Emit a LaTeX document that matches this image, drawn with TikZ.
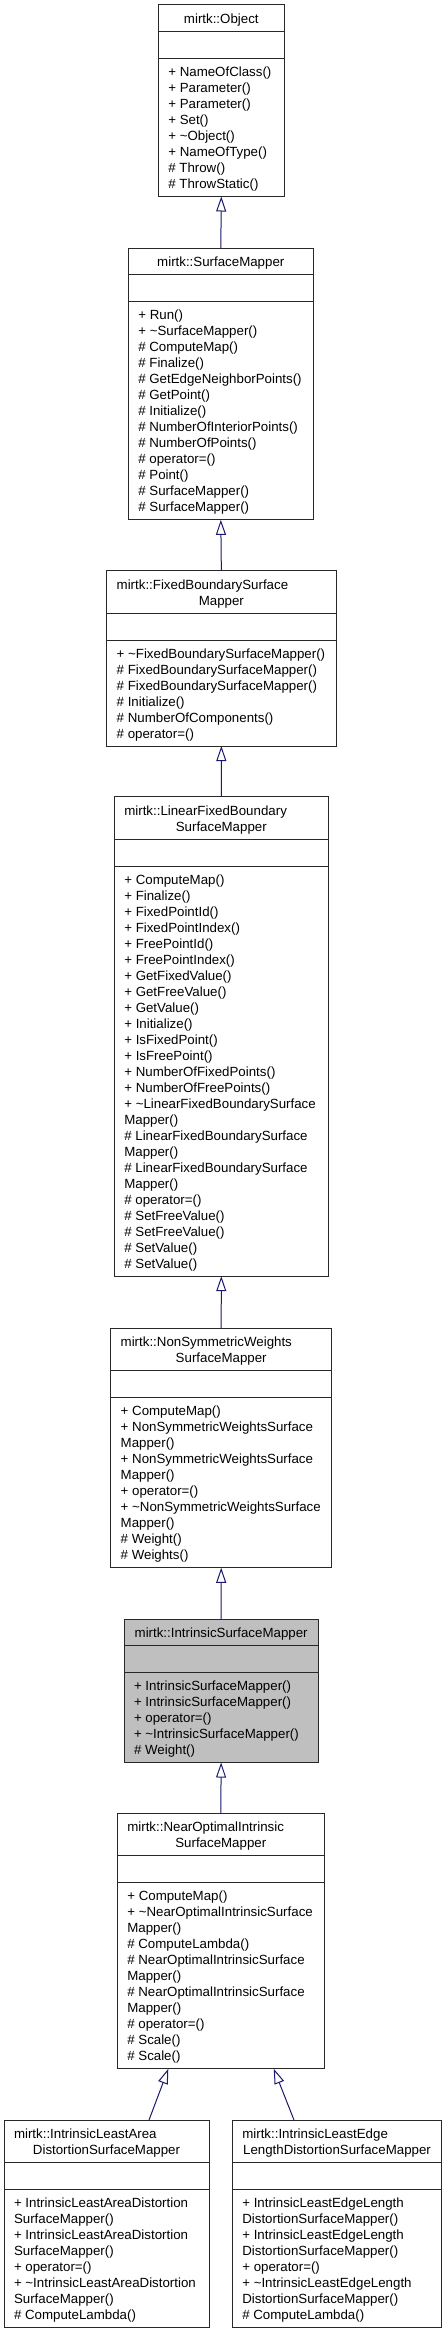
\documentclass[tikz,border=0pt]{standalone}
\usepackage{fontspec}
\setmainfont{Liberation Sans}
\usetikzlibrary{arrows.meta}
\definecolor{edgeblue}{RGB}{25,25,112}
\definecolor{boxline}{RGB}{40,40,40}
\definecolor{grayfill}{RGB}{191,191,191}
\tikzset{
  classbox/.style={draw=boxline, line width=1pt, rectangle, inner sep=0pt, outer sep=0pt},
  sepline/.style={draw=boxline, line width=1pt},
  txt/.style={inner sep=0pt, outer sep=0pt, font=\fontsize{13.3}{16}\selectfont},
  inh/.style={draw=edgeblue, line width=1pt, -{Triangle[open, length=15pt, width=10pt]}},
}
% #1 name, #2 left, #3 right, #4 top, #5 title line 1, #6 title line 2, #7 number of items, #8 items, #9 fill
\newcommand\umlclass[9]{%
  \ifx\relax#6\relax\def\ntl{1}\else\def\ntl{2}\fi
  \pgfmathsetmacro\ya{#4+16*\ntl+10.5}%
  \pgfmathsetmacro\yb{\ya+27}%
  \pgfmathsetmacro\yc{\yb+16*#7+10}%
  \pgfmathsetmacro\xm{(#2+#3)/2}%
  \pgfmathsetmacro\ym{(#4+\yc)/2}%
  \pgfmathsetmacro\bw{#3-#2}%
  \pgfmathsetmacro\bh{\yc-#4}%
  \node[classbox, fill=#9, minimum width=\bw pt, minimum height=\bh pt] (#1) at (\xm,\ym) {};
  \draw[sepline] (#2,\ya) -- (#3,\ya) (#2,\yb) -- (#3,\yb);
  \ifx\relax#6\relax
    \node[txt, anchor=base] (#1-t1) at (\xm,#4+18.5) {#5};
  \else
    \node[txt, anchor=base west] (#1-t1) at (#2+10,#4+18.5) {#5};
    \node[txt, anchor=base] (#1-t2) at (\xm,#4+34.5) {#6};
  \fi
  \foreach \t [count=\i from 0] in {#8} {
    \node[txt, anchor=base west] (#1-i\i) at (#2+10,\yb+18+16*\i) {\t};
  }
}
\begin{document}
\begin{tikzpicture}[x=1pt,y=-1pt]
\useasboundingbox (0,0) rectangle (447,2336);
\fill[white] (0,0) rectangle (447,2336);

\umlclass{obj}{158.3}{284.3}{5}{mirtk::Object}{}{8}{{+ NameOfClass()},{+ Parameter()},{+ Parameter()},{+ Set()},{+ \textasciitilde Object()},{+ NameOfType()},{\# Throw()},{\# ThrowStatic()}}{white}

\umlclass{sm}{128.3}{313.3}{248.3}{mirtk::SurfaceMapper}{}{13}{{+ Run()},{+ \textasciitilde SurfaceMapper()},{\# ComputeMap()},{\# Finalize()},{\# GetEdgeNeighborPoints()},{\# GetPoint()},{\# Initialize()},{\# NumberOfInteriorPoints()},{\# NumberOfPoints()},{\# operator=()},{\# Point()},{\# SurfaceMapper()},{\# SurfaceMapper()}}{white}

\umlclass{fbsm}{106.7}{336}{570.5}{mirtk::FixedBoundarySurface}{Mapper}{6}{{+ \textasciitilde FixedBoundarySurfaceMapper()},{\# FixedBoundarySurfaceMapper()},{\# FixedBoundarySurfaceMapper()},{\# Initialize()},{\# NumberOfComponents()},{\# operator=()}}{white}

\umlclass{lfbsm}{114.3}{328.3}{796.7}{mirtk::LinearFixedBoundary}{SurfaceMapper}{25}{{+ ComputeMap()},{+ Finalize()},{+ FixedPointId()},{+ FixedPointIndex()},{+ FreePointId()},{+ FreePointIndex()},{+ GetFixedValue()},{+ GetFreeValue()},{+ GetValue()},{+ Initialize()},{+ IsFixedPoint()},{+ IsFreePoint()},{+ NumberOfFixedPoints()},{+ NumberOfFreePoints()},{+ \textasciitilde LinearFixedBoundarySurface},{Mapper()},{\# LinearFixedBoundarySurface},{Mapper()},{\# LinearFixedBoundarySurface},{Mapper()},{\# operator=()},{\# SetFreeValue()},{\# SetFreeValue()},{\# SetValue()},{\# SetValue()}}{white}

\umlclass{nsw}{110.7}{331.7}{1328.3}{mirtk::NonSymmetricWeights}{SurfaceMapper}{10}{{+ ComputeMap()},{+ NonSymmetricWeightsSurface},{Mapper()},{+ NonSymmetricWeightsSurface},{Mapper()},{+ operator=()},{+ \textasciitilde NonSymmetricWeightsSurface},{Mapper()},{\# Weight()},{\# Weights()}}{white}

\umlclass{ism}{124}{318.3}{1619}{mirtk::IntrinsicSurfaceMapper}{}{5}{{+ IntrinsicSurfaceMapper()},{+ IntrinsicSurfaceMapper()},{+ operator=()},{+ \textasciitilde IntrinsicSurfaceMapper()},{\# Weight()}}{grayfill}

\umlclass{noism}{117.3}{324.3}{1813.3}{mirtk::NearOptimalIntrinsic}{SurfaceMapper}{11}{{+ ComputeMap()},{+ \textasciitilde NearOptimalIntrinsicSurface},{Mapper()},{\# ComputeLambda()},{\# NearOptimalIntrinsicSurface},{Mapper()},{\# NearOptimalIntrinsicSurface},{Mapper()},{\# operator=()},{\# Scale()},{\# Scale()}}{white}

\umlclass{ilad}{4}{209}{2120}{mirtk::IntrinsicLeastArea}{DistortionSurfaceMapper}{8}{{+ IntrinsicLeastAreaDistortion},{SurfaceMapper()},{+ IntrinsicLeastAreaDistortion},{SurfaceMapper()},{+ operator=()},{+ \textasciitilde IntrinsicLeastAreaDistortion},{SurfaceMapper()},{\# ComputeLambda()}}{white}

\umlclass{ilel}{232.3}{441.7}{2120}{mirtk::IntrinsicLeastEdge}{LengthDistortionSurfaceMapper}{8}{{+ IntrinsicLeastEdgeLength},{DistortionSurfaceMapper()},{+ IntrinsicLeastEdgeLength},{DistortionSurfaceMapper()},{+ operator=()},{+ \textasciitilde IntrinsicLeastEdgeLength},{DistortionSurfaceMapper()},{\# ComputeLambda()}}{white}

\draw[inh] (sm.north) -- (obj.south);
\draw[inh] (fbsm.north) -- (sm.south);
\draw[inh] (lfbsm.north) -- (fbsm.south);
\draw[inh] (nsw.north) -- (lfbsm.south);
\draw[inh] (ism.north) -- (nsw.south);
\draw[inh] (noism.north) -- (ism.south);
\coordinate (s8) at ([xshift=42.5pt]ilad.north);
\coordinate (e8) at ([xshift=-52.5pt]noism.south);
\coordinate (s9) at ([xshift=-43pt]ilel.north);
\coordinate (e9) at ([xshift=53pt]noism.south);
\draw[inh] (s8) -- (e8);
\draw[inh] (s9) -- (e9);
\end{tikzpicture}
\end{document}
